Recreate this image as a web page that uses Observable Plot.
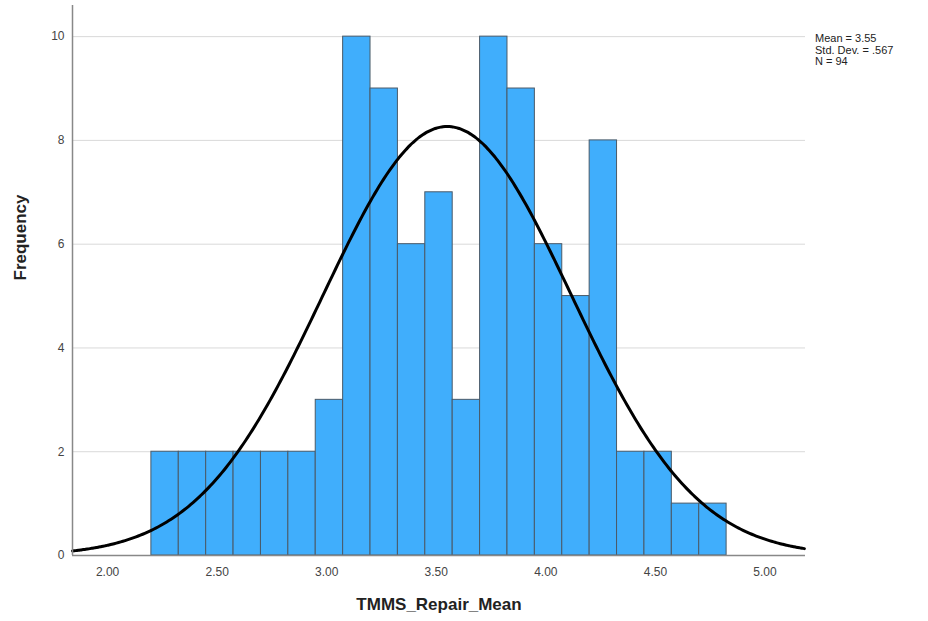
<!DOCTYPE html>
<html>
<head>
<meta charset="utf-8">
<script src="https://cdn.jsdelivr.net/npm/d3@7"></script>
<script src="https://cdn.jsdelivr.net/npm/@observablehq/plot@0.6"></script>
<style>
  html, body { margin: 0; padding: 0; background: #fff; }
  #chart { position: relative; width: 928px; height: 621px; }
  #stats { position: absolute; left: 815px; top: 33px; font: 11px "Liberation Sans", Arial, sans-serif; color: #222; line-height: 11.5px; }
</style>
</head>
<body>
<div id="chart"><div id="stats"></div></div>
<script>
// Histogram bins (lower edges) and frequencies
const binStart = [2.2,2.325,2.45,2.575,2.7,2.825,2.95,3.075,3.2,3.325,3.45,3.575,3.7,3.825,3.95,4.075,4.2,4.325,4.45,4.575,4.7];
const binWidth = 0.125;
const frequency = [2,2,2,2,2,2,3,10,9,6,7,3,10,9,6,5,8,2,2,1,1];
// Summary statistics shown in the legend
const statMean = 3.55;
const statSD = 0.567;
const statN = 94;
const statLines = ["Mean = 3.55", "Std. Dev. = .567", "N = 94"];
const xTicks = [2.0, 2.5, 3.0, 3.5, 4.0, 4.5, 5.0];
const yTicks = [0, 2, 4, 6, 8, 10];
const xDomain = [1.84, 5.185];

const bars = binStart.map((x0, i) => ({x1: x0, x2: x0 + binWidth, y: frequency[i]}));

// Normal curve from the stated mean / SD / N, scaled to bin width
const curveX = d3.range(xDomain[0], xDomain[1] + 0.0001, 0.01);
const curve = curveX.map(x => ({
  x,
  y: statN * binWidth / (statSD * Math.sqrt(2 * Math.PI)) * Math.exp(-0.5 * ((x - statMean) / statSD) ** 2)
}));

const chart = Plot.plot({
  width: 928,
  height: 621,
  marginLeft: 72,
  marginRight: 123,
  marginTop: 5,
  marginBottom: 66,
  style: {fontFamily: "'Liberation Sans', Arial, sans-serif", fontSize: "12px", color: "#444", background: "#fff"},
  x: {domain: xDomain, ticks: xTicks, tickFormat: d => d.toFixed(2)},
  y: {domain: [0, 10.6], ticks: yTicks},
  marks: [
    Plot.ruleY(yTicks.filter(d => d > 0), {stroke: "#d9d9d9", strokeWidth: 1}),
    Plot.rectY(bars, {x1: "x1", x2: "x2", y: "y", fill: "#40aefc", stroke: "#4a5a68", strokeWidth: 1, inset: 0}),
    Plot.line(curve, {x: "x", y: "y", stroke: "#000", strokeWidth: 3, curve: "natural"}),
    Plot.ruleY([0], {stroke: "#888", strokeWidth: 1.5}),
    Plot.ruleX([xDomain[0]], {stroke: "#888", strokeWidth: 1.5}),
    Plot.axisX({ticks: xTicks, tickFormat: d => d.toFixed(2), tickSize: 0, tickPadding: 12, label: null, fontSize: 12, fill: "#444"}),
    Plot.axisY({ticks: yTicks, tickSize: 0, tickPadding: 8, label: null, fontSize: 12, fill: "#444"}),
    Plot.text(["TMMS_Repair_Mean"], {frameAnchor: "bottom", dy: 54, fontSize: 17, fontWeight: "bold", fill: "#222"}),
    Plot.text(["Frequency"], {frameAnchor: "left", dx: -52, rotate: -90, fontSize: 17, fontWeight: "bold", fill: "#222"})
  ]
});
const host = document.getElementById("chart");
host.insertBefore(chart, host.firstChild);
document.getElementById("stats").innerHTML = statLines.join("<br>");
</script>
</body>
</html>
